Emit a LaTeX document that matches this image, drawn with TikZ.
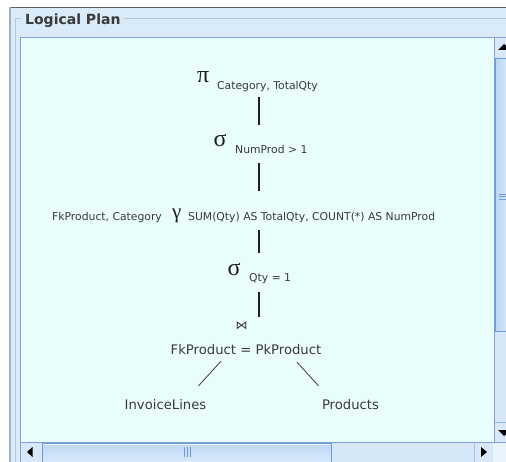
\documentclass[tikz,border=0pt]{standalone}
\usepackage{fontspec}
\setmainfont{DejaVu Sans}
\newfontfamily\greekfont{Liberation Serif}
\newfontfamily\symfont{DejaVu Sans}

\definecolor{winedge}{HTML}{5E5E5E}
\definecolor{winside}{HTML}{A3AFBC}
\definecolor{panelbg}{HTML}{D9EAF8}
\definecolor{titleline}{HTML}{B3C7DC}
\definecolor{contentbg}{HTML}{EAFDFD}
\definecolor{paneedge}{HTML}{7FA3D6}
\definecolor{trackbg}{HTML}{D6E7F8}
\definecolor{buttonbg}{HTML}{D8E8F8}
\definecolor{cornerbg}{HTML}{E8F4FB}
\definecolor{thumbtop}{HTML}{BCD7F4}
\definecolor{thumbbot}{HTML}{DDEDFB}
\definecolor{thumbedge}{HTML}{6F9ADB}
\definecolor{inktext}{HTML}{3A3A3A}
\definecolor{inkline}{HTML}{1E1E1E}

\begin{document}
\begin{tikzpicture}[x=1pt,y=-1pt,
  greek/.style={font=\greekfont\fontsize{24}{24}\selectfont, inner sep=0,
    text height=10, text depth=0, anchor=base west, text=inkline},
  subtxt/.style={font=\fontsize{10.8}{10.8}\selectfont, inner sep=0,
    text height=8, text depth=2.5, anchor=base west, text=inktext},
  lbl/.style={font=\fontsize{13.2}{13.2}\selectfont, inner sep=0,
    text height=10, text depth=3, anchor=base, text=inktext},
  edge/.style={draw=inkline, line width=1.5},
  branch/.style={draw=inkline!80, line width=0.9},
  thumb/.style={top color=thumbtop, bottom color=thumbbot, draw=thumbedge},
  arrowtip/.style={fill=black}]

\useasboundingbox (0,0) rectangle (506,462);
\fill[white] (0,0) rectangle (506,462);

% window body and frame
\fill[panelbg] (9,7) rectangle (506,462);
\draw[winedge, line width=1.2] (9,7.5) -- (506,7.5);
\draw[winside, line width=1.5] (9.75,7) -- (9.75,462);

% titled border
\draw[titleline] (15.5,462) -- (15.5,18.5) -- (21,18.5);
\draw[titleline] (124,18.5) -- (506,18.5);
\node[anchor=base west, font=\fontsize{14}{14}\selectfont\bfseries,
      text=inktext, inner sep=0] (title) at (25,25) {Logical Plan};

% scroll pane viewport
\fill[contentbg] (20.5,37.5) rectangle (494,442.5);

% vertical scrollbar
\fill[trackbg] (494,37.5) rectangle (506,442.5);
\fill[buttonbg] (494,37.5) rectangle (506,58);
\fill[arrowtip] (498,50) -- (504,44) -- (510,50) -- cycle;
\draw[thumb, left color=thumbtop, right color=thumbbot] (495.5,58.5) rectangle (512,331.5);
\foreach \gy in {194,196.5,199} \draw[thumbedge] (499,\gy) -- (506,\gy);
\fill[buttonbg] (494,422) rectangle (506,442.5);
\draw[thumbedge!70] (494,422.5) -- (506,422.5);
\fill[arrowtip] (498,430) -- (510,430) -- (504,436) -- cycle;

% horizontal scrollbar
\fill[trackbg] (20.5,442.5) rectangle (493,462);
\fill[buttonbg] (20.5,442.5) rectangle (42,462);
\fill[arrowtip] (27,452) -- (32.5,447) -- (32.5,457) -- cycle;
\draw[thumb] (42,443) rectangle (331.5,465);
\draw[white!70!thumbtop] (43,444.2) -- (330.5,444.2);
\foreach \gx in {184,187,190} \draw[thumbedge] (\gx,447) -- (\gx,457);
\fill[buttonbg] (474,443) rectangle (493,462);
\draw[thumbedge!60] (474,443) -- (474,462);
\fill[arrowtip] (481,447) -- (481,457) -- (487,452) -- cycle;
\fill[cornerbg] (493,442.5) rectangle (506,462);

% viewport border
\draw[paneedge] (20.5,462) -- (20.5,37.5) -- (506,37.5);
\draw[paneedge] (494,37.5) -- (494,442.5);
\draw[paneedge] (20.5,442.5) -- (506,442.5);

% plan tree
\coordinate (spine) at (259,0);

\node[greek] (pi) at (197,82.5) {π};
\node[subtxt] (pisub) at (217,90) {Category, TotalQty};

\node[greek] (selA) at (213.5,147) {σ};
\node[subtxt] (selAsub) at (235,154) {NumProd > 1};

\node[subtxt] (grp) at (52,221) {FkProduct, Category};
\node[greek, font=\greekfont\fontsize{21}{21}\selectfont] (gamma) at (172,219) {γ};
\node[subtxt] (agg) at (188,221) {SUM(Qty) AS TotalQty, COUNT(*) AS NumProd};

\node[greek] (selB) at (227.5,276) {σ};
\node[subtxt] (selBsub) at (249,282) {Qty = 1};

\node[font=\symfont\fontsize{12}{12}\selectfont, inner sep=0, text=inktext,
      text height=8, text depth=0] (join) at (241.5,326) {⋈};
\node[lbl] (cond) at (246,354) {FkProduct = PkProduct};

\node[lbl] (inv) at (165.5,409) {InvoiceLines};
\node[lbl] (prod) at (350.5,409) {Products};

\draw[edge, shorten <=4.5pt, shorten >=12pt] (pisub.south -| spine) -- (selA.north -| spine);
\draw[edge, shorten <=6.5pt, shorten >=18pt] (selAsub.south -| spine) -- (gamma.north -| spine);
\draw[edge, shorten <=6.5pt, shorten >=13pt] (agg.south -| spine) -- (selB.north -| spine);
\draw[edge, shorten <=7.5pt, shorten >=5pt] (selBsub.south -| spine) -- (join.north -| spine);
\draw[branch] ([xshift=-25pt, yshift=-4pt]cond.south) -- ([xshift=33pt, yshift=13pt]inv.north);
\draw[branch] ([xshift=51pt, yshift=-5pt]cond.south) -- ([xshift=-32pt, yshift=13pt]prod.north);
\end{tikzpicture}
\end{document}
